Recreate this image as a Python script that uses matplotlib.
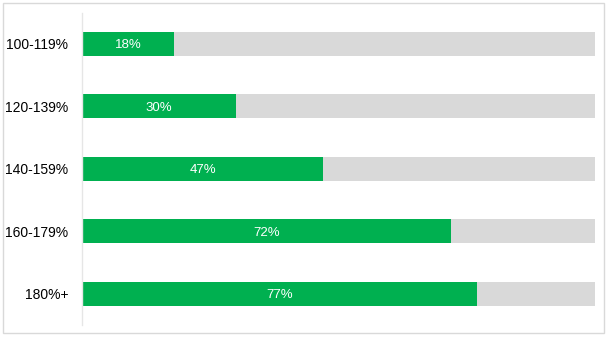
import matplotlib
matplotlib.use("Agg")
import matplotlib.pyplot as plt
from matplotlib.patches import Rectangle

categories = ["100-119%", "120-139%", "140-159%", "160-179%", "180%+"]
values = [18, 30, 47, 72, 77]
labels = ["18%", "30%", "47%", "72%", "77%"]
total = 100

plt.rcParams['font.family'] = ['Liberation Sans', 'DejaVu Sans']

fig = plt.figure(figsize=(6.1, 3.4), dpi=100)
fig.patches.append(Rectangle((3/610, 1-333/340), 601/610, 330/340, transform=fig.transFigure,
                             fill=False, edgecolor='#D9D9D9', linewidth=1, zorder=0))
ax = fig.add_axes([82/610, 1-325/340, 513/610, 312.5/340])

y = list(range(len(categories)))
ax.barh(y, [total]*len(categories), height=0.384, color='#D9D9D9', zorder=1)
ax.barh(y, values, height=0.384, color='#00B050', zorder=2)
for yi, v, lab in zip(y, values, labels):
    ax.text(v/2, yi + 0.02, lab, ha='center', va='center', color='white', fontsize=9.5, zorder=3)

ax.set_xlim(0, total)
ax.set_ylim(len(categories)-0.5, -0.5)
ax.set_yticks(y)
ax.set_yticklabels(categories, fontsize=10, color='#000000')
ax.tick_params(axis='y', length=0, pad=10)
ax.set_xticks([])
for s in ['top', 'right', 'bottom']:
    ax.spines[s].set_visible(False)
ax.spines['left'].set_color('#E6E6E6')
ax.spines['left'].set_linewidth(1)

fig.savefig("out.png", dpi=100)
